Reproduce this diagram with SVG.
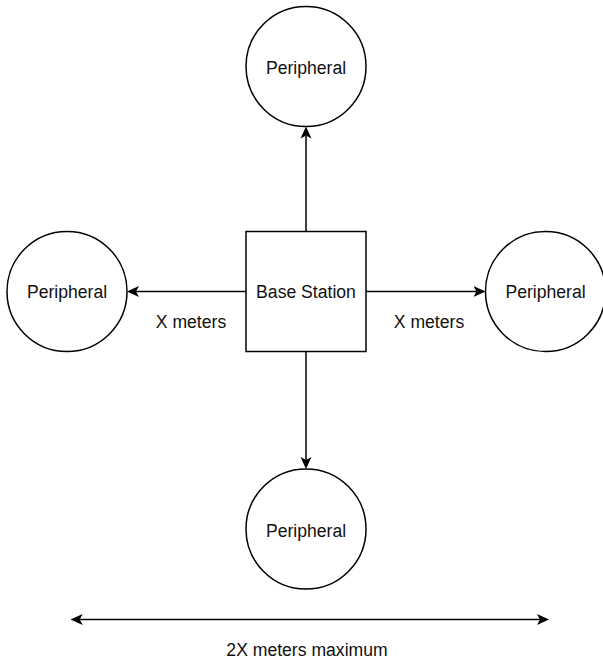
<svg xmlns="http://www.w3.org/2000/svg" width="603" height="662" viewBox="0 0 603 662">
<style>
.shape{fill:#fff;stroke:#000;stroke-width:1.5}
.edge{fill:none;stroke:#000;stroke-width:1.5}
.lbl{font-family:"Liberation Sans",Arial,Helvetica,sans-serif;font-size:17.6px;fill:#111;text-anchor:middle}
</style>
<defs>
<marker id="arr" viewBox="0 0 12 12" markerWidth="12" markerHeight="12" refX="3" refY="6" markerUnits="userSpaceOnUse" orient="auto-start-reverse">
<path d="M0,0.5 L12,6 L0,11.5 L3,6 Z" fill="#000"/>
</marker>
</defs>
<rect width="603" height="662" fill="#fff"/>
<g id="connectors">
<line class="edge" x1="306" y1="231.5" x2="306" y2="135.5" marker-end="url(#arr)"/>
<line class="edge" x1="246" y1="291.5" x2="136" y2="291.5" marker-end="url(#arr)"/>
<line class="edge" x1="366" y1="291.5" x2="476.5" y2="291.5" marker-end="url(#arr)"/>
<line class="edge" x1="306" y1="351.5" x2="306" y2="460" marker-end="url(#arr)"/>
<line class="edge" x1="79.7" y1="619.5" x2="540" y2="619.5" marker-start="url(#arr)" marker-end="url(#arr)"/>
</g>
<g id="base-station">
<rect class="shape" x="246" y="231.5" width="120" height="120"/>
<text class="lbl" x="306" y="298">Base Station</text>
</g>
<g id="peripheral-top">
<circle class="shape" cx="306" cy="66.5" r="60"/>
<text class="lbl" x="306" y="74">Peripheral</text>
</g>
<g id="peripheral-left">
<circle class="shape" cx="67" cy="291.5" r="60"/>
<text class="lbl" x="67" y="298">Peripheral</text>
</g>
<g id="peripheral-right">
<circle class="shape" cx="545.5" cy="291.5" r="60"/>
<text class="lbl" x="545.5" y="298">Peripheral</text>
</g>
<g id="peripheral-bottom">
<circle class="shape" cx="306" cy="529" r="60"/>
<text class="lbl" x="306" y="536.5">Peripheral</text>
</g>
<g id="labels">
<text class="lbl" x="191" y="328">X meters</text>
<text class="lbl" x="429" y="328">X meters</text>
<text class="lbl" x="307" y="656">2X meters maximum</text>
</g>
</svg>
